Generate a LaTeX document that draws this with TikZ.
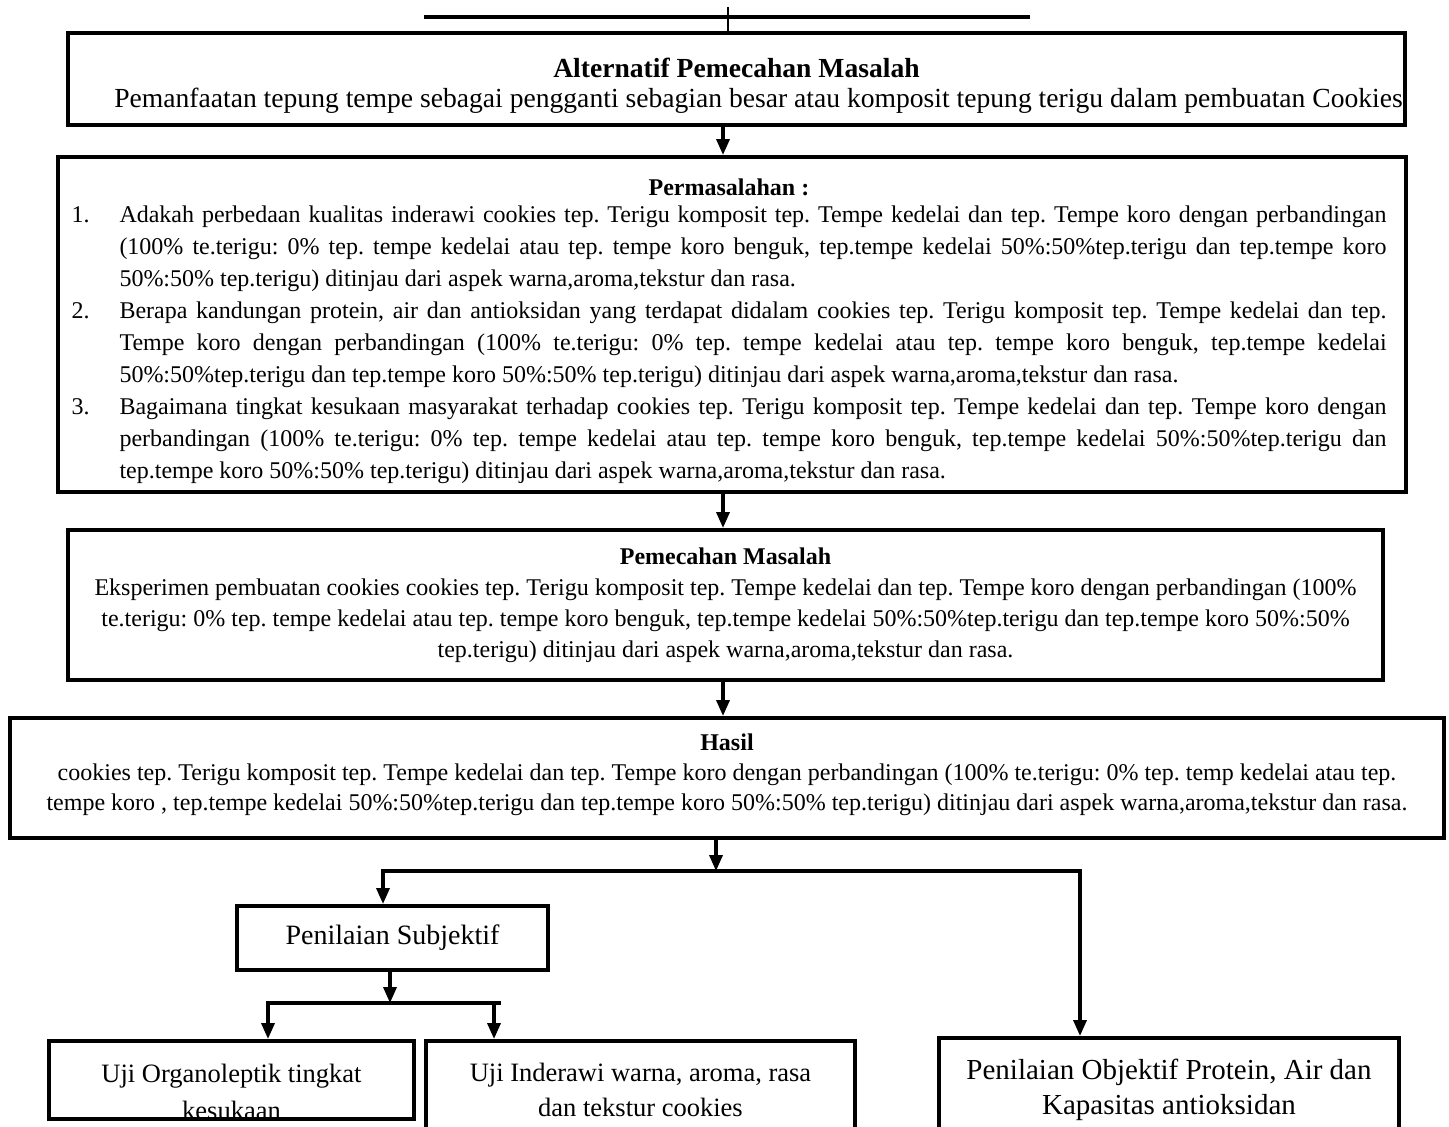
\documentclass[tikz,border=0pt]{standalone}
\usepackage{fontspec}
\setmainfont{Liberation Serif}
\frenchspacing
\usetikzlibrary{arrows.meta}
\begin{document}
\begin{tikzpicture}[x=1pt,y=-1pt,
  box/.style={draw, line width=4pt, rectangle, inner sep=0pt},
  txt/.style={align=center, inner sep=0pt},
  link/.style={line width=3.5pt, line cap=rect},
  arr/.style={line width=3.5pt, -{Triangle[length=16pt,width=13pt]}},
]
\fill[white] (0,0) rectangle (1449,1127);
\useasboundingbox (0,0) rectangle (1449,1127);
\clip (0,0) rectangle (1449,1127);

% ---- frames ----
\node[box, minimum width=1337pt, minimum height=92pt]  (alt)   at (736.5,79) {};
\node[box, minimum width=1348pt, minimum height=335pt] (perm)  at (732,324.5) {};
\node[box, minimum width=1315pt, minimum height=150pt] (pem)   at (725.5,605) {};
\node[box, minimum width=1434pt, minimum height=120pt] (hasil) at (727,778) {};
\node[box, minimum width=311pt,  minimum height=64pt]  (subj)  at (392.5,938) {};
\node[box, minimum width=365pt,  minimum height=78pt]  (org)   at (231.5,1080) {};
\node[box, minimum width=429pt,  minimum height=109pt] (ind)   at (640.5,1095.5) {};
\node[box, minimum width=460pt,  minimum height=112pt] (obj)   at (1169,1094) {};

% ---- texts ----
\node[txt, font=\fontsize{27.6}{30}\selectfont] (altText) at (736.5,86)
  {\textbf{Alternatif Pemecahan Masalah}\\
   \hspace*{44pt}Pemanfaatan tepung tempe sebagai pengganti sebagian besar atau komposit tepung terigu dalam pembuatan Cookies};

\node[txt, align=left, font=\fontsize{24}{32}\selectfont] (permText) at (729,331)
  {\makebox[1315pt][c]{\textbf{Permasalahan :}}\\[-5pt]
   \makebox[48pt][l]{1.}\makebox[1267pt][s]{Adakah perbedaan kualitas inderawi cookies tep. Terigu komposit tep. Tempe kedelai dan tep. Tempe koro dengan perbandingan}\\
   \makebox[48pt][l]{}\makebox[1267pt][s]{(100\% te.terigu: 0\% tep. tempe kedelai atau tep. tempe koro benguk, tep.tempe kedelai 50\%:50\%tep.terigu dan tep.tempe koro}\\
   \makebox[48pt][l]{}\makebox[1267pt][l]{50\%:50\% tep.terigu) ditinjau dari aspek warna,aroma,tekstur dan rasa.}\\
   \makebox[48pt][l]{2.}\makebox[1267pt][s]{Berapa kandungan protein, air dan antioksidan yang terdapat didalam cookies tep. Terigu komposit tep. Tempe kedelai dan tep.}\\
   \makebox[48pt][l]{}\makebox[1267pt][s]{Tempe koro dengan perbandingan (100\% te.terigu: 0\% tep. tempe kedelai atau tep. tempe koro benguk, tep.tempe kedelai}\\
   \makebox[48pt][l]{}\makebox[1267pt][l]{50\%:50\%tep.terigu dan tep.tempe koro 50\%:50\% tep.terigu) ditinjau dari aspek warna,aroma,tekstur dan rasa.}\\
   \makebox[48pt][l]{3.}\makebox[1267pt][s]{Bagaimana tingkat kesukaan masyarakat terhadap cookies tep. Terigu komposit tep. Tempe kedelai dan tep. Tempe koro dengan}\\
   \makebox[48pt][l]{}\makebox[1267pt][s]{perbandingan (100\% te.terigu: 0\% tep. tempe kedelai atau tep. tempe koro benguk, tep.tempe kedelai 50\%:50\%tep.terigu dan}\\
   \makebox[48pt][l]{}\makebox[1267pt][l]{tep.tempe koro 50\%:50\% tep.terigu) ditinjau dari aspek warna,aroma,tekstur dan rasa.}};

\node[txt, font=\fontsize{24}{31}\selectfont] (pemText) at (725.5,605)
  {\textbf{Pemecahan Masalah}\\
   Eksperimen pembuatan cookies cookies tep. Terigu komposit tep. Tempe kedelai dan tep. Tempe koro dengan perbandingan (100\%\\
   te.terigu: 0\% tep. tempe kedelai atau tep. tempe koro benguk, tep.tempe kedelai 50\%:50\%tep.terigu dan tep.tempe koro 50\%:50\%\\
   tep.terigu) ditinjau dari aspek warna,aroma,tekstur dan rasa.};

\node[txt, font=\fontsize{24}{30}\selectfont] (hasilText) at (727,775)
  {\textbf{Hasil}\\
   cookies tep. Terigu komposit tep. Tempe kedelai dan tep. Tempe koro dengan perbandingan (100\% te.terigu: 0\% tep. temp kedelai atau tep.\\
   tempe koro , tep.tempe kedelai 50\%:50\%tep.terigu dan tep.tempe koro 50\%:50\% tep.terigu) ditinjau dari aspek warna,aroma,tekstur dan rasa.};

\node[txt, font=\fontsize{28}{32}\selectfont] (subjText) at (392.5,938) {Penilaian Subjektif};
\node[txt, font=\fontsize{26.5}{37}\selectfont] (orgText) at (231.5,1092) {Uji Organoleptik tingkat\\kesukaan};
\node[txt, font=\fontsize{26.5}{35}\selectfont] (indText) at (640.5,1090) {Uji Inderawi warna, aroma, rasa\\dan tekstur cookies};
\node[txt, font=\fontsize{29}{35}\selectfont] (objText) at (1169,1090) {Penilaian Objektif Protein, Air dan\\Kapasitas antioksidan};

% ---- header rule ----
\coordinate (tl) at (424,17);
\coordinate (tr) at (1030,17);
\coordinate (tk) at (728,7);
\draw[line width=4pt] (tl) -- (tr);
\draw[line width=2.8pt] (tk) -- (tk |- alt.north);

% ---- vertical flow ----
\coordinate (mid) at (723,0);
\draw[arr] (mid |- alt.south) -- (mid |- perm.north);
\draw[arr] (mid |- perm.south) -- (mid |- pem.north);
\draw[arr] (mid |- pem.south) -- (mid |- hasil.north);

% ---- first split ----
\coordinate (s0) at (716,871);
\coordinate (sL) at (383,871);
\coordinate (sR) at (1080,871);
\draw[arr] (s0 |- hasil.south) -- (s0);
\draw[link] (sL) -- (sR);
\draw[arr] (sL) -- (sL |- subj.north);
\draw[arr] (sR) -- (sR |- obj.north);

% ---- second split ----
\coordinate (t0) at (390,1003);
\coordinate (tL) at (268,1003);
\coordinate (tR) at (499,1003);
\coordinate (tI) at (494,1003);
\draw[arr] (t0 |- subj.south) -- (t0);
\draw[link] (tL) -- (tR);
\draw[arr] (tL) -- (tL |- org.north);
\draw[arr] (tI) -- (tI |- ind.north);
\end{tikzpicture}
\end{document}
